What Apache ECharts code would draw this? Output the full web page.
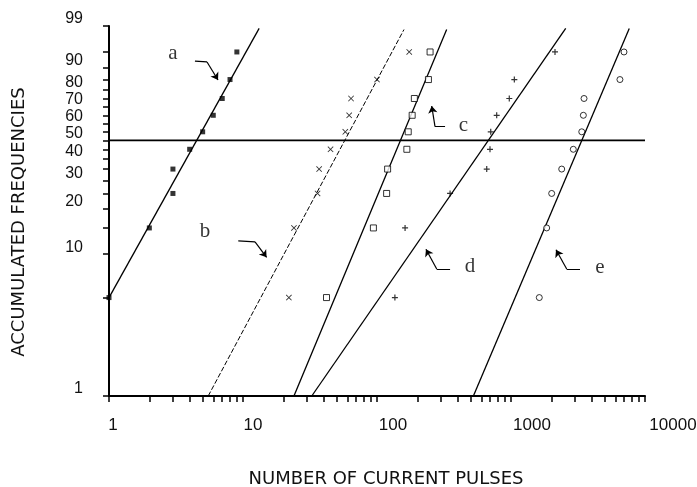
<!DOCTYPE html>
<html>
<head>
<meta charset="utf-8">
<script src="https://cdn.jsdelivr.net/npm/echarts@6/dist/echarts.min.js"></script>
<style>
  html, body { margin: 0; padding: 0; background: #fff; }
  #chart { width: 697px; height: 487px; }
</style>
</head>
<body>
<div id="chart"></div>
<script>
// accumulated frequency (%) of the 10 points in every sample
const freqs = [5, 15, 25, 35, 45, 55, 65, 75, 85, 95];
// number of current pulses for each sample
const pulsesA = [1, 2, 3, 3, 4, 5, 6, 7, 8, 9];
const pulsesB = [22, 24, 36, 37, 45, 58, 62, 64, 100, 174];
const pulsesC = [42, 94, 118, 120, 167, 171, 183, 190, 242, 249];
const pulsesD = [136, 162, 351, 659, 697, 706, 782, 971, 1059, 2130];
const pulsesE = [1626, 1846, 2012, 2390, 2917, 3373, 3467, 3507, 6500, 6970];
// fitted lines, [pulses, freq %] at both ends
const fitA = [[1, 5], [13.2, 98.8]];
const fitB = [[5.5, 1], [159, 98.7]];
const fitC = [[24, 1], [331, 98.7]];
const fitD = [[32.6, 1], [2560, 98.8]];
const fitE = [[524, 1], [7630, 98.8]];
const medianFreq = 50;
// axis ticks / labels
const yLabelFreqs = [1, 10, 20, 30, 40, 50, 60, 70, 80, 90, 99];
const yTickFreqs = [1, 5, 10, 15, 20, 25, 30, 35, 40, 45, 50, 55, 60, 65, 70, 75, 80, 85, 90, 95, 99];
const xLabelValues = [1, 10, 100, 1000, 10000];
const xTickValues = [1, 2, 3, 4, 5, 6, 7, 8, 9, 10, 20, 30, 40, 50, 60, 70, 80, 90,
  100, 200, 300, 400, 500, 600, 700, 800, 900, 1000, 2000, 3000, 4000, 5000, 6000,
  7000, 8000, 9000, 10000];
// curve letters and their arrows (tail, bend, head), [pulses, freq %]
const letters = ['a', 'b', 'c', 'd', 'e'];
const letterPos = [[3.0, 94.7], [5.2, 14.2], [441, 58.5], [494, 8.2], [4616, 8.1]];
const arrowPaths = [
  [[4.38, 92.4], [5.39, 92.1], [6.51, 84.8]],
  [[9.22, 12.3], [12.3, 12.1], [15.0, 9.5]],
  [[322, 58.1], [271, 58.1], [256, 70.6]],
  [[351, 7.9], [279, 7.9], [232, 10.8]],
  [[3273, 7.9], [2604, 7.9], [2167, 10.7]]
];

// weibull probability scale
function W(p) { return Math.log(-Math.log(1 - p / 100)); }
function invW(v) { return 100 * (1 - Math.exp(-Math.exp(v))); }

const font = 'Liberation Sans, Arial, sans-serif';
const titleFont = 'DejaVu Sans, sans-serif';
const X_MARK = 'path://M0,1L1,0L5,4L9,0L10,1L6,5L10,9L9,10L5,6L1,10L0,9L4,5Z';
const PLUS_MARK = 'path://M4,0H6V4H10V6H6V10H4V6H0V4H4Z';

function pts(pulses) { return pulses.map((v, i) => [v, W(freqs[i])]); }
function fit(f) { return f.map(p => [p[0], W(p[1])]); }
function xy(q) { return [q[0], W(q[1])]; }

function scatter(name, pulses, symbol, size, empty) {
  return {
    name: name, type: 'scatter', data: pts(pulses), symbol: symbol, symbolSize: size,
    itemStyle: empty ? { color: '#fff', borderColor: '#000', borderWidth: 1 } : { color: '#000' },
    z: 4
  };
}
function fitLine(name, f, style) {
  return {
    name: name, type: 'line', data: fit(f), showSymbol: false, symbol: 'none',
    lineStyle: Object.assign({ color: '#000', width: 1.3 }, style || {}), z: 3
  };
}

const chart = echarts.init(document.getElementById('chart'));
chart.setOption({
  animation: false,
  backgroundColor: '#fff',
  grid: { left: 109, right: 52, top: 26, bottom: 91, outerBoundsMode: 'none', containLabel: false },
  xAxis: {
    type: 'log', logBase: 10, min: 1, max: 10000,
    name: 'NUMBER OF CURRENT PULSES', nameLocation: 'middle', nameGap: 74,
    nameTextStyle: { fontFamily: titleFont, fontSize: 18, color: '#111', verticalAlign: 'top', padding: [0, 0, 0, 18] },
    axisLine: { onZero: false, lineStyle: { color: '#000', width: 2 } },
    axisTick: { show: true, length: 6, lineStyle: { color: '#000', width: 1.5 }, customValues: xTickValues },
    splitLine: { show: false },
    axisLabel: {
      customValues: xLabelValues, margin: 21, fontFamily: font, fontSize: 17, color: '#111',
      formatter: v => '{s' + Math.round(Math.log10(v)) + '|' + v + '}',
      rich: {
        s0: { fontFamily: font, fontSize: 17, color: '#111', padding: [0, 0, 0, 8] },
        s1: { fontFamily: font, fontSize: 17, color: '#111', padding: [0, 0, 0, 20] },
        s2: { fontFamily: font, fontSize: 17, color: '#111', padding: [0, 0, 0, 32] },
        s3: { fontFamily: font, fontSize: 17, color: '#111', padding: [0, 0, 0, 42] },
        s4: { fontFamily: font, fontSize: 17, color: '#111', padding: [0, 0, 0, 56] }
      }
    }
  },
  yAxis: {
    type: 'value', min: W(1), max: W(99),
    name: 'ACCUMULATED FREQUENCIES', nameLocation: 'middle', nameRotate: 90, nameGap: 81,
    nameTextStyle: { fontFamily: titleFont, fontSize: 18, color: '#111', padding: [0, 22, 0, 0] },
    axisLine: { show: true, onZero: false, lineStyle: { color: '#000', width: 2 } },
    axisTick: { show: true, length: 6, lineStyle: { color: '#000', width: 1.5 }, customValues: yTickFreqs.map(W) },
    splitLine: { show: false },
    axisLabel: {
      customValues: yLabelFreqs.map(W), margin: 26, fontFamily: font, fontSize: 16, color: '#111',
      verticalAlign: 'bottom', lineHeight: 14,
      formatter: v => String(Math.round(invW(v)))
    }
  },
  series: [
    fitLine('fit a', fitA),
    fitLine('fit b', fitB, { width: 1, type: [5, 2] }),
    fitLine('fit c', fitC),
    fitLine('fit d', fitD),
    fitLine('fit e', fitE),
    scatter('a', pulsesA, 'rect', 5, false),
    scatter('b', pulsesB, X_MARK, 6, false),
    scatter('c', pulsesC, 'rect', 6, true),
    scatter('d', pulsesD, PLUS_MARK, 6, false),
    scatter('e', pulsesE, 'circle', 6, true),
    {
      name: 'median', type: 'line', data: [[1, W(medianFreq)], [10000, W(medianFreq)]],
      showSymbol: false, symbol: 'none', lineStyle: { color: '#000', width: 1.6 }, z: 3
    },
    {
      name: 'arrow tails', type: 'lines', coordinateSystem: 'cartesian2d',
      symbol: ['none', 'none'],
      lineStyle: { color: '#000', width: 1.2, opacity: 1 },
      data: arrowPaths.map(p => ({ coords: [xy(p[0]), xy(p[1])] })), z: 5
    },
    {
      name: 'arrow heads', type: 'lines', coordinateSystem: 'cartesian2d',
      symbol: ['none', 'arrow'], symbolSize: 7,
      lineStyle: { color: '#000', width: 1.2, opacity: 1 },
      data: arrowPaths.map(p => ({ coords: [xy(p[1]), xy(p[2])] })), z: 5
    },
    {
      name: 'letters', type: 'scatter', symbolSize: 1, itemStyle: { color: 'rgba(0,0,0,0)' },
      data: letters.map((l, i) => ({ name: l, value: [letterPos[i][0], W(letterPos[i][1])] })),
      label: {
        show: true, position: 'inside', formatter: p => p.name,
        fontFamily: 'Liberation Serif, Times New Roman, serif', fontSize: 21, color: '#000'
      },
      z: 5
    }
  ]
});
</script>
</body>
</html>
